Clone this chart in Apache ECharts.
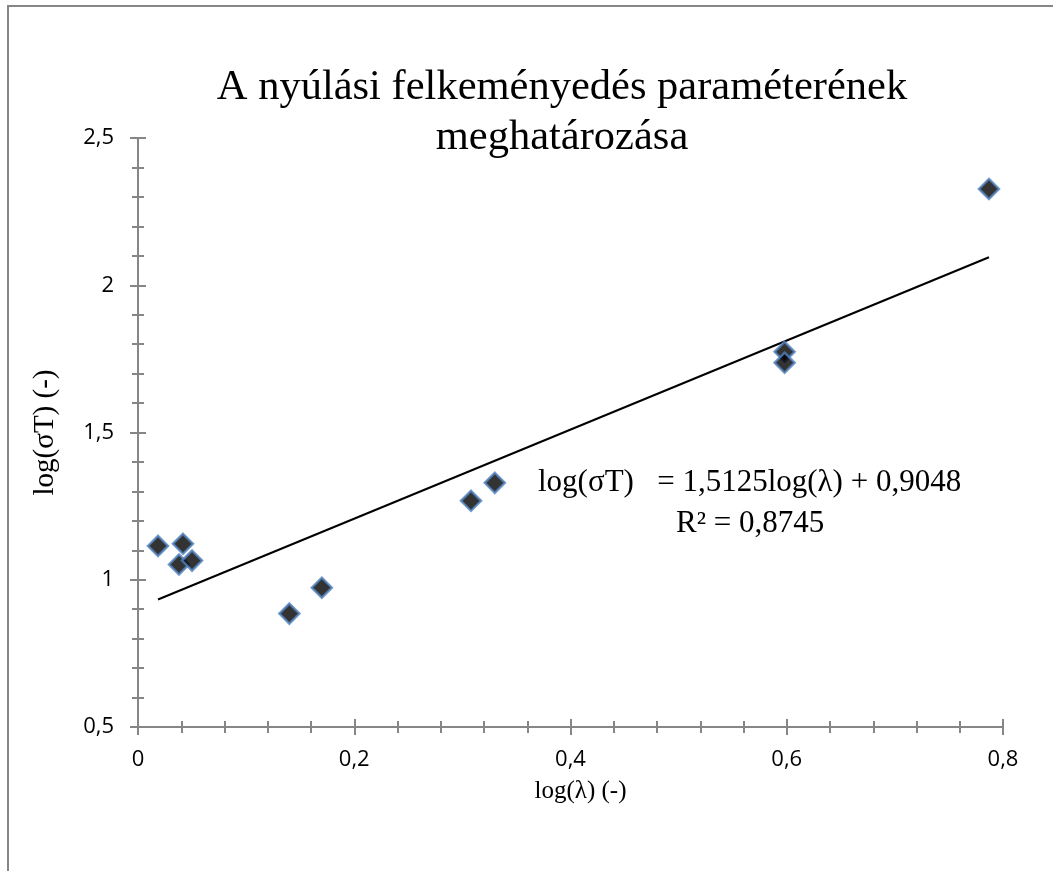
<!DOCTYPE html>
<html>
<head>
<meta charset="utf-8">
<script src="https://cdn.jsdelivr.net/npm/echarts@6/dist/echarts.min.js"></script>
<style>
html,body{margin:0;padding:0;background:#fff;}
#chart{width:1053px;height:871px;}
</style>
</head>
<body>
<div id="chart"></div>
<script>
// Data
const logLambda = [0.0185, 0.0416, 0.0379, 0.050, 0.140, 0.170, 0.308, 0.330, 0.598, 0.598, 0.787];
const logSigmaT = [1.115, 1.122, 1.052, 1.065, 0.885, 0.973, 1.268, 1.329, 1.774, 1.737, 2.327];
// Linear trend line coefficients (from the chart's equation)
const trendSlope = 1.5125;
const trendIntercept = 0.9048;
const titleLines = ['A nyúlási felkeményedés paraméterének', 'meghatározása'];
const xAxisName = 'log(λ) (-)';
const yAxisName = 'log(σT) (-)';
const equationText = 'log(σT)   = 1,5125log(λ) + 0,9048';
const r2Text = 'R² = 0,8745';

const points = logLambda.map((x, i) => [x, logSigmaT[i]]);
const xMinData = Math.min(...logLambda), xMaxData = Math.max(...logLambda);
const trend = [
  [xMinData, trendSlope * xMinData + trendIntercept],
  [xMaxData, trendSlope * xMaxData + trendIntercept]
];

const axisGray = '#868686';
const fmt = v => String(Math.round(v * 100) / 100).replace('.', ',');
const gridPos = {left: 138, right: 50, top: 138, bottom: 144};

function mkAxis(type, grid, inside, withLabels) {
  const isX = type === 'x';
  return {
    type: 'value',
    gridIndex: grid,
    min: isX ? 0 : 0.5,
    max: isX ? 0.8 : 2.5,
    interval: isX ? 0.2 : 0.5,
    position: isX ? 'bottom' : 'left',
    splitLine: {show: false},
    axisLine: {show: true, onZero: false, lineStyle: {color: axisGray, width: 2}},
    axisTick: {show: true, inside: inside, length: 8, lineStyle: {color: axisGray, width: 2}},
    minorTick: {show: true, splitNumber: 5, length: 6, lineStyle: {color: axisGray, width: 2}},
    minorSplitLine: {show: false},
    axisLabel: {
      show: withLabels,
      formatter: fmt,
      color: '#000',
      fontFamily: 'Open Sans',
      fontSize: 22,
      margin: isX ? 22 : 24
    },
    name: withLabels ? (isX ? xAxisName : yAxisName) : '',
    nameLocation: 'middle',
    nameGap: isX ? 52 : 78,
    nameTextStyle: {
      fontFamily: 'Liberation Serif',
      fontSize: isX ? 25 : 29,
      color: '#000',
      padding: isX ? [0, 0, 0, 20] : 0
    }
  };
}

const chart = echarts.init(document.getElementById('chart'), null, {renderer: 'canvas'});
chart.setOption({
  backgroundColor: '#fff',
  animation: false,
  title: {
    text: titleLines.join('\n'),
    left: 557,
    top: 58,
    textAlign: 'center',
    textStyle: {fontFamily: 'Liberation Serif', fontSize: 42.5, fontWeight: 'normal', color: '#000', lineHeight: 50}
  },
  grid: [Object.assign({}, gridPos), Object.assign({}, gridPos)],
  xAxis: [mkAxis('x', 0, false, true), mkAxis('x', 1, true, false)],
  yAxis: [mkAxis('y', 0, false, true), mkAxis('y', 1, true, false)],
  graphic: [
    {type: 'rect', shape: {x: 8, y: 6, width: 1200, height: 1000}, style: {fill: null, stroke: axisGray, lineWidth: 2}, silent: true, z: -1},
    {type: 'text', left: 538, top: 467, style: {text: equationText, font: '31px "Liberation Serif"', fill: '#000'}},
    {type: 'text', left: 676, top: 508, style: {text: r2Text, font: '31px "Liberation Serif"', fill: '#000'}}
  ],
  series: [
    {
      type: 'line',
      xAxisIndex: 0, yAxisIndex: 0,
      data: trend,
      symbol: 'none',
      lineStyle: {color: '#000', width: 2},
      z: 2
    },
    {
      type: 'scatter',
      xAxisIndex: 0, yAxisIndex: 0,
      data: points,
      symbol: 'diamond',
      symbolSize: [20, 20],
      itemStyle: {color: '#000', borderColor: '#4F81BD', borderWidth: 2.5},
      z: 3
    }
  ]
});
</script>
</body>
</html>
